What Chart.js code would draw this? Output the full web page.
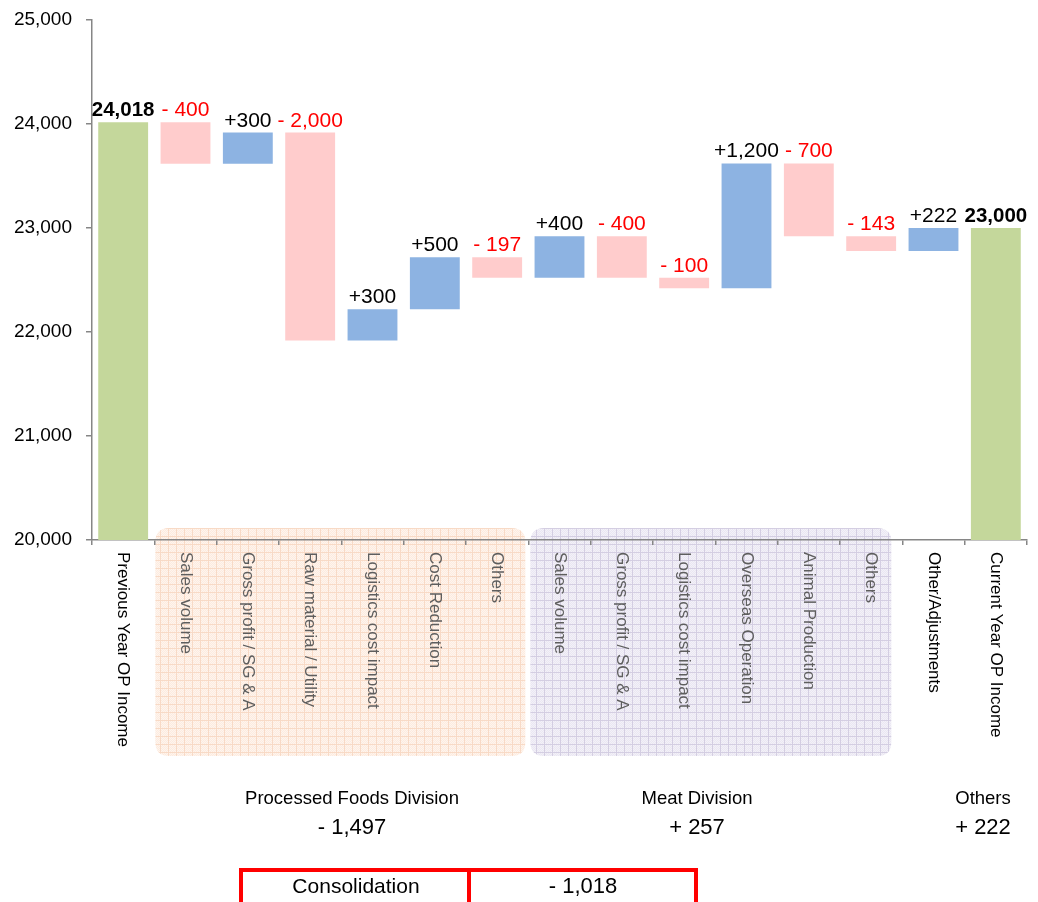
<!DOCTYPE html>
<html>
<head>
<meta charset="utf-8">
<script src="https://cdn.jsdelivr.net/npm/chart.js@4.4.1/dist/chart.umd.min.js"></script>
<style>
  html, body { margin: 0; padding: 0; background: #ffffff; }
  #wrap { position: relative; width: 1038px; height: 902px; }
</style>
</head>
<body>
<div id="wrap"><canvas id="c" width="1038" height="902"></canvas></div>
<script>
// ---- data ----
const categories = [
  'Previous Year OP Income',
  'Sales volume', 'Gross profit / SG & A', 'Raw material / Utility',
  'Logistics cost impact', 'Cost Reduction', 'Others',
  'Sales volume', 'Gross profit / SG & A', 'Logistics cost impact',
  'Overseas Operation', 'Animal Production', 'Others',
  'Other/Adjustments',
  'Current Year OP Income'
];
const previousTotal = 24018;
const currentTotal = 23000;
const changes = [-400, 300, -2000, 300, 500, -197, 400, -400, -100, 1200, -700, -143, 222];
const yTicks = [20000, 21000, 22000, 23000, 24000, 25000];
const groupNames = ['Processed Foods Division', 'Meat Division', 'Others'];
const groupChanges = [-1497, 257, 222];
const consolidationLabel = 'Consolidation';
const consolidationChange = -1018;

// category index spans covered by the two division panels
const divisionSpans = [[1, 6], [7, 12]];

// ---- waterfall ranges ----
const yMin = yTicks[0];
const yMax = yTicks[yTicks.length - 1];
const ranges = [[yMin, previousTotal]];
const kinds = ['total'];
const valueLabels = [fmt(previousTotal)];
let level = previousTotal;
changes.forEach(d => {
  ranges.push([level, level + d]);
  kinds.push(d >= 0 ? 'up' : 'down');
  valueLabels.push(d >= 0 ? '+' + fmt(d) : '- ' + fmt(-d));
  level += d;
});
ranges.push([yMin, currentTotal]);
kinds.push('total');
valueLabels.push(fmt(currentTotal));

function fmt(v) { return v.toLocaleString('en-US'); }
function signed(v) { return v >= 0 ? '+ ' + fmt(v) : '- ' + fmt(-v); }

const FONT = '"Liberation Sans", Arial, sans-serif';
const COLORS = { total: '#c4d79b', up: '#8db3e2', down: '#ffcccc' };

// light checked grid used as the panel fill
function gridPattern(ctx, base, dots, line) {
  const p = document.createElement('canvas');
  p.width = 8; p.height = 8;
  const g = p.getContext('2d');
  g.fillStyle = base; g.fillRect(0, 0, 8, 8);
  g.fillStyle = dots;
  for (let yy = 0; yy < 8; yy++) {
    for (let xx = 0; xx < 8; xx++) {
      if ((xx + yy) % 2 === 0) g.fillRect(xx, yy, 1, 1);
    }
  }
  g.fillStyle = line; g.fillRect(0, 0, 8, 1); g.fillRect(0, 0, 1, 8);
  return ctx.createPattern(p, 'repeat');
}

function roundRect(ctx, x, y, w, h, r) {
  ctx.beginPath();
  ctx.moveTo(x + r, y);
  ctx.lineTo(x + w - r, y);
  ctx.quadraticCurveTo(x + w, y, x + w, y + r);
  ctx.lineTo(x + w, y + h - r);
  ctx.quadraticCurveTo(x + w, y + h, x + w - r, y + h);
  ctx.lineTo(x + r, y + h);
  ctx.quadraticCurveTo(x, y + h, x, y + h - r);
  ctx.lineTo(x, y + r);
  ctx.quadraticCurveTo(x, y, x + r, y);
  ctx.closePath();
}

// division panels behind the category labels
const panelPlugin = {
  id: 'panels',
  beforeDraw(chart) {
    const { ctx, scales: { x } } = chart;
    const half = (x.getPixelForValue(1) - x.getPixelForValue(0)) / 2;
    const fills = [
      gridPattern(ctx, '#fdebdf', '#fef5ee', '#f8dac6'),
      gridPattern(ctx, '#eae7f2', '#f3f1f8', '#d4cee2')
    ];
    const trims = [[1, -3], [2, -11]];
    ctx.save();
    divisionSpans.forEach(([a, b], k) => {
      const left = x.getPixelForValue(a) - half + trims[k][0];
      const right = x.getPixelForValue(b) + half + trims[k][1];
      roundRect(ctx, left, 528, right - left, 228, 14);
      ctx.fillStyle = fills[k];
      ctx.fill();
    });
    ctx.restore();
  }
};

// value labels above each bar
const valueLabelPlugin = {
  id: 'valueLabels',
  afterDatasetsDraw(chart) {
    const { ctx } = chart;
    const meta = chart.getDatasetMeta(0);
    ctx.save();
    ctx.textAlign = 'center';
    ctx.textBaseline = 'alphabetic';
    meta.data.forEach((el, i) => {
      const top = Math.min(el.y, el.base);
      const kind = kinds[i];
      ctx.font = kind === 'total' ? 'bold 20.5px ' + FONT : '21px ' + FONT;
      ctx.fillStyle = kind === 'down' ? '#ff0000' : '#000000';
      ctx.fillText(valueLabels[i], el.x, top - 6);
    });
    ctx.restore();
  }
};

// vertical category labels and the summary block underneath
const annotationPlugin = {
  id: 'annotations',
  afterDraw(chart) {
    const { ctx, scales: { x } } = chart;
    ctx.save();
    ctx.font = '17px ' + FONT;
    ctx.textAlign = 'left';
    ctx.textBaseline = 'middle';
    categories.forEach((label, i) => {
      const inPanel = divisionSpans.some(([a, b]) => i >= a && i <= b);
      ctx.fillStyle = inPanel ? '#5e5e5e' : '#000000';
      ctx.save();
      ctx.translate(x.getPixelForValue(i), 552);
      ctx.rotate(Math.PI / 2);
      ctx.fillText(label, 0, 0);
      ctx.restore();
    });

    // division summaries
    const groupX = [352, 697, 983];
    ctx.textAlign = 'center';
    ctx.textBaseline = 'alphabetic';
    ctx.fillStyle = '#000000';
    groupNames.forEach((name, k) => {
      ctx.font = '18.5px ' + FONT;
      ctx.fillText(name, groupX[k], 804);
      ctx.font = '22px ' + FONT;
      ctx.fillText(signed(groupChanges[k]), groupX[k], 834);
    });

    // consolidation box
    ctx.strokeStyle = '#ff0000';
    ctx.lineWidth = 4;
    ctx.beginPath();
    ctx.moveTo(241, 910); ctx.lineTo(241, 870); ctx.lineTo(696, 870); ctx.lineTo(696, 910);
    ctx.moveTo(469, 870); ctx.lineTo(469, 910);
    ctx.stroke();
    ctx.font = '21px ' + FONT;
    ctx.fillText(consolidationLabel, 356, 893);
    ctx.font = '22px ' + FONT;
    ctx.fillText(signed(consolidationChange), 583, 893);
    ctx.restore();
  }
};

new Chart(document.getElementById('c'), {
  type: 'bar',
  data: {
    labels: categories,
    datasets: [{
      data: ranges,
      backgroundColor: kinds.map(k => COLORS[k]),
      borderWidth: 0,
      borderSkipped: false,
      barPercentage: 0.8,
      categoryPercentage: 1.0
    }]
  },
  options: {
    responsive: false,
    animation: false,
    events: [],
    layout: { padding: { top: 20, right: 11, left: 0, bottom: 0 } },
    plugins: { legend: { display: false }, tooltip: { enabled: false } },
    scales: {
      x: {
        offset: true,
        ticks: { display: false },
        grid: { drawOnChartArea: false, offset: true, tickLength: 5, color: '#868686', lineWidth: 1.5 },
        border: { color: '#868686', width: 1.5 },
        afterFit(scale) { scale.height = 362; }
      },
      y: {
        min: yMin,
        max: yMax,
        afterBuildTicks(scale) { scale.ticks = yTicks.map(v => ({ value: v })); },
        ticks: {
          callback: v => fmt(v),
          color: '#000000',
          font: { family: FONT, size: 19 },
          padding: 14
        },
        grid: { drawOnChartArea: false, tickLength: 6, color: '#868686', lineWidth: 1.5 },
        border: { color: '#868686', width: 1.5 },
        afterFit(scale) {
          scale.width = 92;
          scale.paddingTop = 0;
          scale.paddingBottom = 0;
        }
      }
    }
  },
  plugins: [panelPlugin, valueLabelPlugin, annotationPlugin]
});
</script>
</body>
</html>
